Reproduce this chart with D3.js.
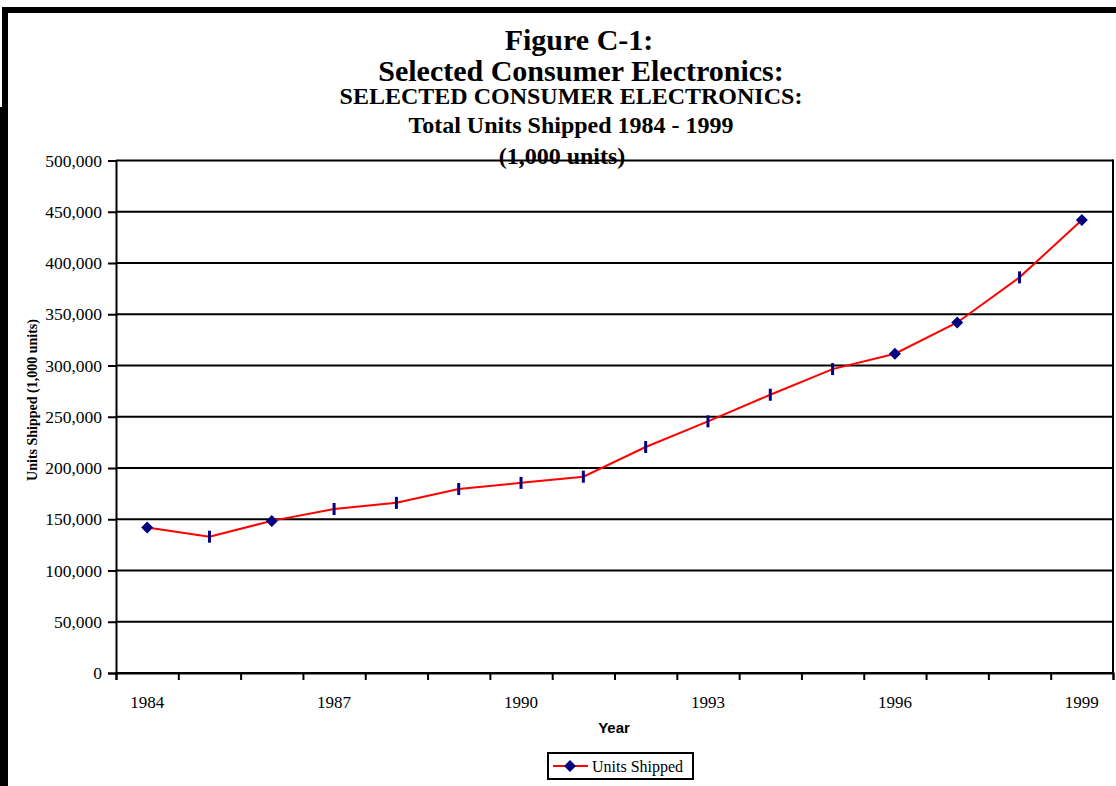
<!DOCTYPE html>
<html>
<head>
<meta charset="utf-8">
<script src="https://cdn.jsdelivr.net/npm/d3@7/dist/d3.min.js"></script>
<style>
  html, body { margin: 0; padding: 0; background: #fff; }
  svg { display: block; }
</style>
</head>
<body>
<svg id="chart" width="1116" height="786"></svg>
<script>
// ---- Data ----
const years = [1984, 1985, 1986, 1987, 1988, 1989, 1990, 1991, 1992, 1993, 1994, 1995, 1996, 1997, 1998, 1999];
const unitsShipped = [142000, 133000, 148400, 160000, 166000, 179500, 185500, 191500, 220500, 245500, 271500, 296500, 311500, 342000, 386000, 442000];
const fullMarkerYears = [1984, 1986, 1996, 1997, 1999];
const xTickLabels = [1984, 1987, 1990, 1993, 1996, 1999];
const yTickValues = [0, 50000, 100000, 150000, 200000, 250000, 300000, 350000, 400000, 450000, 500000];
const titleLines = ["Figure C-1:", "Selected Consumer Electronics:", "SELECTED CONSUMER ELECTRONICS:", "Total Units Shipped 1984 - 1999", "(1,000 units)"];
const seriesName = "Units Shipped";
const yAxisTitle = "Units Shipped (1,000 units)";
const xAxisTitle = "Year";

const svg = d3.select("#chart");
const serif = "'Liberation Serif', 'Times New Roman', serif";
const sans = "'Liberation Sans', Arial, sans-serif";

// Frame decoration (black border pieces)
svg.append("rect").attr("x", 2).attr("y", 7).attr("width", 1114).attr("height", 6).attr("fill", "#000");
svg.append("rect").attr("x", 2).attr("y", 7).attr("width", 6).attr("height", 100).attr("fill", "#000");
svg.append("rect").attr("x", 0).attr("y", 107).attr("width", 8).attr("height", 679).attr("fill", "#000");

const plot = { left: 116, right: 1113, top: 160.5, bottom: 673 };

const x = d3.scaleBand().domain(years).range([plot.left, plot.right]).padding(0);
const y = d3.scaleLinear().domain([0, 500000]).range([plot.bottom, plot.top]);

// Gridlines
svg.append("g").selectAll("line").data(yTickValues).join("line")
  .attr("x1", plot.left).attr("x2", plot.right)
  .attr("y1", d => y(d)).attr("y2", d => y(d))
  .attr("stroke", "#000").attr("stroke-width", 2);

// Plot border right
svg.append("line").attr("x1", plot.right).attr("x2", plot.right)
  .attr("y1", plot.top - 1).attr("y2", plot.bottom + 1).attr("stroke", "#000").attr("stroke-width", 2);

// Y axis
const yAxis = d3.axisLeft(y).tickValues(yTickValues).tickSize(8).tickPadding(6)
  .tickFormat(d3.format(","));
const gy = svg.append("g").attr("transform", `translate(${plot.left},0)`).call(yAxis);
gy.select(".domain").attr("stroke", "#000").attr("stroke-width", 2);
gy.selectAll(".tick line").attr("stroke", "#000").attr("stroke-width", 2);
gy.selectAll(".tick text").attr("font-family", serif).attr("font-size", 17.5).attr("fill", "#000");

// X axis (category boundaries as ticks)
const xBound = d3.scaleLinear().domain([0, years.length]).range([plot.left, plot.right]);
const gx = svg.append("g").attr("transform", `translate(0,${plot.bottom})`)
  .call(d3.axisBottom(xBound).tickValues(d3.range(0, years.length + 1)).tickSize(7).tickFormat(""));
gx.select(".domain").attr("stroke", "#000").attr("stroke-width", 2);
gx.selectAll(".tick line").attr("stroke", "#000").attr("stroke-width", 2);

svg.append("g").selectAll("text").data(xTickLabels).join("text")
  .attr("x", d => x(d) + x.bandwidth() / 2).attr("y", 708)
  .attr("text-anchor", "middle").attr("font-family", serif).attr("font-size", 17)
  .text(d => d);

// Axis titles
svg.append("text").attr("x", 614).attr("y", 733).attr("text-anchor", "middle")
  .attr("font-family", sans).attr("font-weight", "bold").attr("font-size", 15).text(xAxisTitle);
svg.append("text").attr("transform", "translate(37,400) rotate(-90)").attr("text-anchor", "middle")
  .attr("font-family", serif).attr("font-weight", "bold").attr("font-size", 14).text(yAxisTitle);

// Titles
const titleSpec = [
  { y: 50, size: 30, cx: 579 },
  { y: 81, size: 30, cx: 581 },
  { y: 104, size: 24, cx: 571 },
  { y: 133, size: 24, cx: 571 },
  { y: 164, size: 24, cx: 562 }
];
svg.append("g").selectAll("text").data(titleLines).join("text")
  .attr("x", (d, i) => titleSpec[i].cx).attr("y", (d, i) => titleSpec[i].y)
  .attr("text-anchor", "middle").attr("font-family", serif).attr("font-weight", "bold")
  .attr("font-size", (d, i) => titleSpec[i].size).text(d => d);

// Line
const pts = years.map((yr, i) => ({ year: yr, value: unitsShipped[i] }));
const line = d3.line().x(d => x(d.year) + x.bandwidth() / 2).y(d => y(d.value));
svg.append("path").datum(pts).attr("d", line)
  .attr("fill", "none").attr("stroke", "#ff0000").attr("stroke-width", 2);

// Markers
const diamond = "M0,-6L6,0L0,6L-6,0Z";
svg.append("g").selectAll("path").data(pts).join("path")
  .attr("transform", d => `translate(${x(d.year) + x.bandwidth() / 2},${y(d.value)})`)
  .attr("d", d => fullMarkerYears.includes(d.year) ? diamond : "M-1.5,-6H1.5V6H-1.5Z")
  .attr("fill", "#000080");

// Legend
const lg = svg.append("g").attr("transform", "translate(548,753)");
lg.append("rect").attr("width", 145).attr("height", 26).attr("fill", "#fff").attr("stroke", "#000").attr("stroke-width", 2);
lg.append("line").attr("x1", 5).attr("x2", 40).attr("y1", 13).attr("y2", 13).attr("stroke", "#ff0000").attr("stroke-width", 2);
lg.append("path").attr("transform", "translate(22,13)").attr("d", diamond).attr("fill", "#000080");
lg.append("text").attr("x", 44).attr("y", 19).attr("font-family", serif).attr("font-size", 16).text(seriesName);
</script>
</body>
</html>
